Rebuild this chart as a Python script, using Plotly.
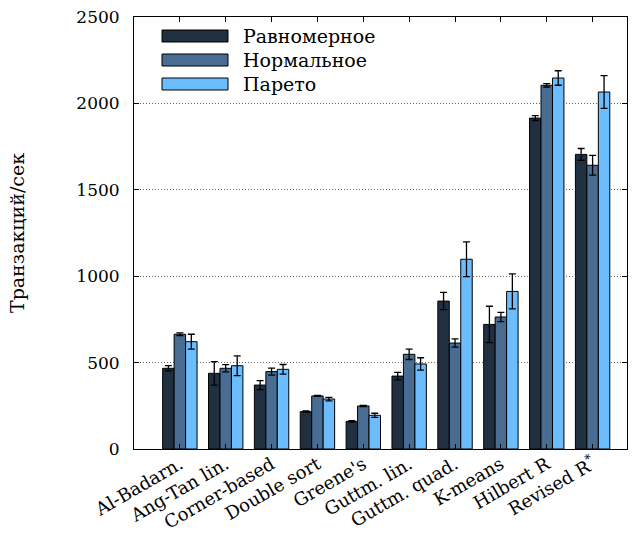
import plotly.graph_objects as go

categories = ["Al-Badarn.", "Ang-Tan lin.", "Corner-based", "Double sort", "Greene's",
              "Guttm. lin.", "Guttm. quad.", "K-means", "Hilbert R", "Revised R<sup>*</sup>"]
series_names = ["Равномерное", "Нормальное", "Парето"]
uniform = [467, 438, 370, 216, 160, 422, 856, 721, 1915, 1705]
uniform_err = [15, 68, 26, 4, 4, 22, 50, 105, 14, 34]
normal = [664, 467, 448, 307, 249, 548, 613, 764, 2105, 1642]
normal_err = [8, 21, 20, 3, 3, 30, 24, 27, 10, 57]
pareto = [621, 482, 461, 289, 195, 492, 1098, 912, 2147, 2066]
pareto_err = [43, 57, 28, 10, 12, 36, 101, 101, 42, 95]
y_ticks = [0, 500, 1000, 1500, 2000, 2500]
y_title = "Транзакций/сек"

colors = ["#203041", "#496c92", "#6cbdfe"]
FONT = "DejaVu Serif"

fig = go.Figure()
xs = list(range(len(categories)))
for name, vals, errs, col in zip(series_names, [uniform, normal, pareto],
                                 [uniform_err, normal_err, pareto_err], colors):
    fig.add_trace(go.Bar(
        x=xs, y=vals, name=name, showlegend=False,
        marker=dict(color=col, line=dict(color="black", width=1)),
        error_y=dict(type="data", array=errs, visible=True,
                     color="black", thickness=1.3, width=3.5),
    ))

# custom legend with wide swatches
plot_l, plot_r, plot_t, plot_b = 134, 627, 17, 449
def px2x(px):
    return (px - plot_l) / (plot_r - plot_l)
def py2y(py):
    return (plot_b - py) / (plot_b - plot_t)

row_centers = [36, 60, 84]
for name, col, yc in zip(series_names, colors, row_centers):
    fig.add_shape(type="rect", xref="paper", yref="paper",
                  x0=px2x(162), x1=px2x(228), y0=py2y(yc + 6), y1=py2y(yc - 6),
                  fillcolor=col, line=dict(color="black", width=1))
    fig.add_annotation(xref="paper", yref="paper", x=px2x(241), y=py2y(yc),
                       text=name, showarrow=False, xanchor="left", yanchor="middle",
                       font=dict(family=FONT, size=19, color="black"))

fig.update_layout(
    width=638, height=533,
    margin=dict(l=134, r=11, t=17, b=84, autoexpand=False),
    paper_bgcolor="white", plot_bgcolor="white",
    barmode="group", bargap=0.25, bargroupgap=0,
    font=dict(family=FONT, size=17, color="black"),
    xaxis=dict(
        range=[-1, 9.75], tickvals=xs, ticktext=categories, tickangle=-30,
        showline=True, linecolor="black", linewidth=1, mirror="ticks",
        ticks="inside", ticklen=5, tickcolor="black", showgrid=False,
        zeroline=False, tickfont=dict(family=FONT, size=18), automargin=False,
        ticklabelstandoff=-3,
    ),
    yaxis=dict(
        range=[0, 2500], tickvals=y_ticks,
        showline=True, linecolor="black", linewidth=1, mirror="ticks",
        ticks="inside", ticklen=5, tickcolor="black",
        showgrid=True, gridcolor="#666666", griddash="1px,2px", gridwidth=1,
        zeroline=False, ticklabelstandoff=10, automargin=False,
        title=dict(text=y_title, standoff=46, font=dict(family=FONT, size=19)),
        tickfont=dict(family=FONT, size=17),
    ),
)

fig.write_html("out.html")
